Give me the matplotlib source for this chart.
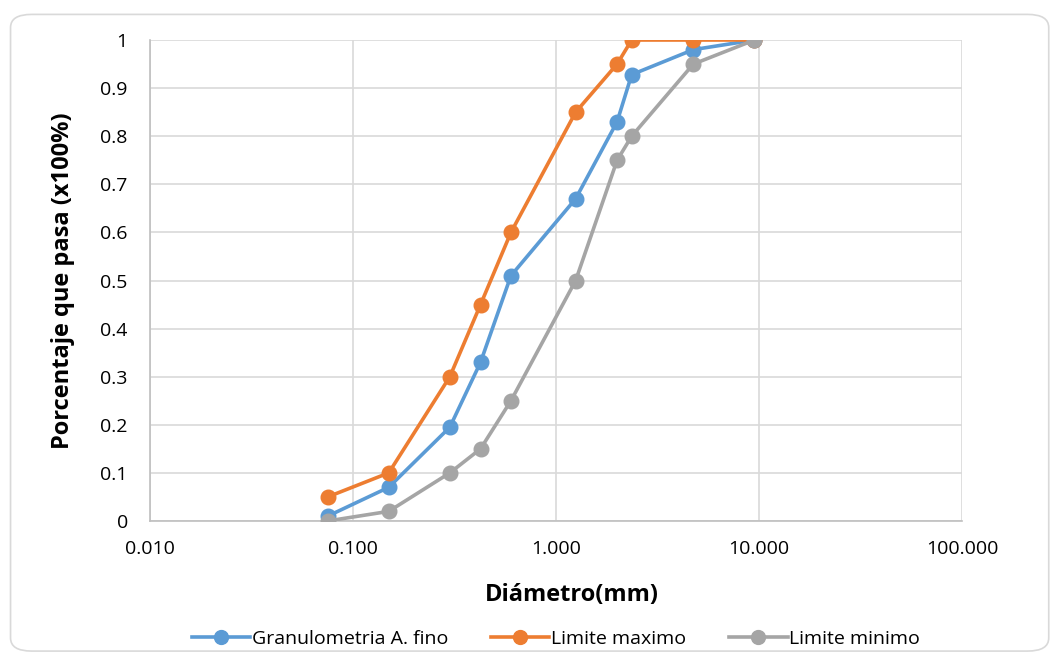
import matplotlib
matplotlib.use("Agg")
import matplotlib.pyplot as plt
from matplotlib.patches import FancyBboxPatch
from matplotlib.ticker import FixedLocator, NullLocator

plt.rcParams['font.family'] = ['Open Sans', 'DejaVu Sans']

# sieve openings (mm) and fraction passing
diametro = [0.075, 0.15, 0.30, 0.425, 0.60, 1.25, 2.0, 2.36, 4.75, 9.5]
granulometria = [0.01, 0.07, 0.195, 0.33, 0.51, 0.67, 0.83, 0.928, 0.98, 1.0]
limite_max = [0.05, 0.10, 0.30, 0.45, 0.60, 0.85, 0.95, 1.0, 1.0, 1.0]
limite_min = [0.0, 0.02, 0.10, 0.15, 0.25, 0.50, 0.75, 0.80, 0.95, 1.0]

x_ticks = [0.01, 0.1, 1, 10, 100]
x_labels = ['0.010', '0.100', '1.000', '10.000', '100.000']
y_ticks = [i / 10 for i in range(11)]
y_labels = ['0'] + ['0.%d' % i for i in range(1, 10)] + ['1']

fig = plt.figure(figsize=(10.54, 6.55), dpi=100)
ax = fig.add_axes([0.1423, 0.2046, 0.7704, 0.7343])

border = FancyBboxPatch((0.010, 0.006), 0.985, 0.972, boxstyle="round,pad=0,rounding_size=0.02",
                        transform=fig.transFigure, fill=False, edgecolor='#D9D9D9', linewidth=1.2)
fig.patches.append(border)

series = [(granulometria, '#5B9BD5', 'Granulometria A. fino'),
          (limite_max, '#ED7D31', 'Limite maximo'),
          (limite_min, '#A5A5A5', 'Limite minimo')]
for vals, col, lab in series:
    ax.plot(diametro, vals, color=col, lw=2.6, marker='o', ms=10.5, label=lab, zorder=3)

ax.set_xscale('log')
ax.set_xlim(0.01, 100)
ax.set_ylim(0, 1)
ax.xaxis.set_major_locator(FixedLocator(x_ticks))
ax.xaxis.set_minor_locator(NullLocator())
ax.set_xticks(x_ticks)
ax.set_xticklabels(x_labels)
ax.set_yticks(y_ticks)
ax.set_yticklabels(y_labels)
ax.tick_params(axis='y', length=0, labelsize=14, colors='#000000', pad=16)
ax.tick_params(axis='x', length=0, labelsize=14, colors='#000000', pad=14)
ax.grid(True, color='#D9D9D9', lw=1.2)
ax.set_axisbelow(True)
for s in ['top', 'right']:
    ax.spines[s].set_visible(False)
for s in ['left', 'bottom']:
    ax.spines[s].set_color('#BFBFBF')
    ax.spines[s].set_linewidth(1.2)

ax.set_xlabel('Diámetro(mm)', fontsize=17, fontweight='bold')
ax.xaxis.set_label_coords(0.52, -0.128)
ax.set_ylabel('Porcentaje que pasa (x100%)', fontsize=17, fontweight='bold', labelpad=18)

ax.legend(loc='center', bbox_to_anchor=(0.5, -0.245), ncol=3, frameon=False,
          fontsize=14, handlelength=3.0, columnspacing=2.2, handletextpad=0.1,
          markerscale=0.95)

fig.savefig('out.png', dpi=100)
